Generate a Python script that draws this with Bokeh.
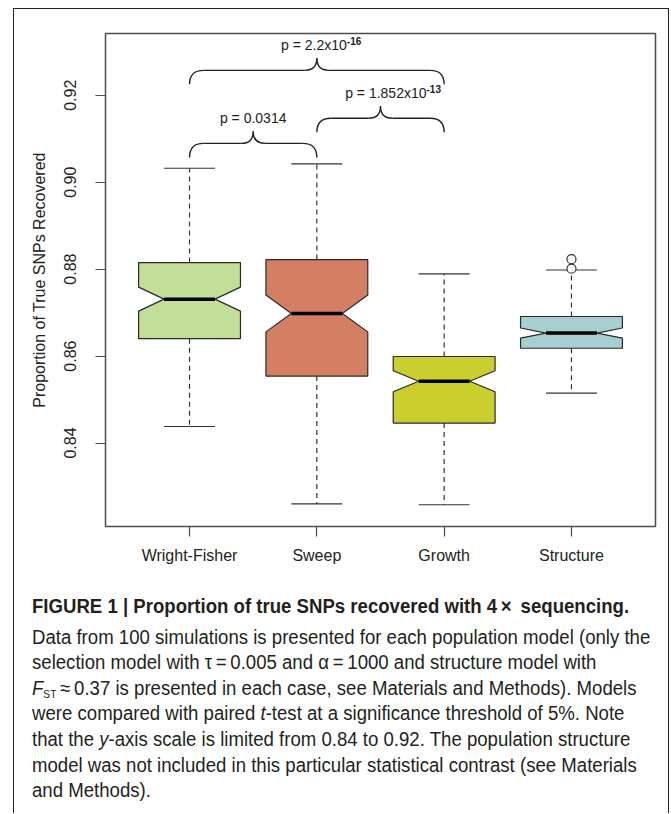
import numpy as np
from bokeh.plotting import figure
from bokeh.models import Range1d, FixedTicker, Div, ColumnDataSource
from bokeh.layouts import column
from bokeh.core.properties import value
from bokeh.embed import file_html
from bokeh.resources import INLINE

# ---- data: proportion of true SNPs recovered (100 simulations per model) ----
categories = ["Wright-Fisher", "Sweep", "Growth", "Structure"]
box_colors = ["#C3DE98", "#D47F63", "#CBCE2F", "#A7CFCF"]
q1 = [0.8640, 0.8554, 0.8446, 0.8618]
medians = [0.8731, 0.8698, 0.8542, 0.8653]
q3 = [0.8815, 0.8822, 0.8599, 0.8691]
whisker_low = [0.8438, 0.8260, 0.8258, 0.8515]
whisker_high = [0.9032, 0.9042, 0.8789, 0.8798]
outlier_model = ["Structure", "Structure"]
outlier_values = [0.8801, 0.8823]
n_simulations = 100

y_ticks = [0.84, 0.86, 0.88, 0.90, 0.92]

# paired t-test contrasts, drawn as curly brackets
contrast_from = ["Wright-Fisher", "Sweep", "Wright-Fisher"]
contrast_to = ["Sweep", "Growth", "Growth"]
contrast_text = ["p = 0.0314", "p = 1.852x10", "p = 2.2x10"]
contrast_exp = ["", "-13", "-16"]
bracket_base = [0.9057, 0.9115, 0.9225]

FONT = value("Liberation Sans")
INK = "#222222"

pos = {c: i + 1 for i, c in enumerate(categories)}
xs = np.array([pos[c] for c in categories], dtype=float)

Y0, Y1 = 0.8208, 0.9342
p = figure(width=654, height=566, x_range=Range1d(0.34, 4.66), y_range=Range1d(Y0, Y1),
           output_backend="svg", toolbar_location=None,
           min_border_left=91, min_border_right=13, min_border_top=24, min_border_bottom=49)
p.grid.visible = False
p.background_fill_color = "white"
p.border_fill_color = "white"
p.outline_line_color = "#4d4d4d"
p.outline_line_width = 1.5

# ---- notched boxes ----
half = 0.4
q1a, meda, q3a = np.array(q1), np.array(medians), np.array(q3)
notch = 1.58 * (q3a - q1a) / np.sqrt(n_simulations)
n_lo, n_hi = meda - notch, meda + notch
box_x, box_y = [], []
for x, a, l, m, h, b in zip(xs, q1a, n_lo, meda, n_hi, q3a):
    box_x.append([x - half, x - half, x - half / 2, x - half, x - half,
                  x + half, x + half, x + half / 2, x + half, x + half])
    box_y.append([a, l, m, h, b, b, h, m, l, a])

# whiskers (dashed) and staples
p.segment(x0=xs, y0=q3a, x1=xs, y1=whisker_high, line_color="#333333", line_width=1.2, line_dash="5 4")
p.segment(x0=xs, y0=q1a, x1=xs, y1=whisker_low, line_color="#333333", line_width=1.2, line_dash="5 4")
p.segment(x0=xs - half / 2, y0=whisker_high, x1=xs + half / 2, y1=whisker_high, line_color="#333333", line_width=1.2)
p.segment(x0=xs - half / 2, y0=whisker_low, x1=xs + half / 2, y1=whisker_low, line_color="#333333", line_width=1.2)

p.patches(xs=box_x, ys=box_y, fill_color=box_colors, line_color="#2a2a2a", line_width=1.2)
p.segment(x0=xs - half / 2, y0=meda, x1=xs + half / 2, y1=meda, line_color="black", line_width=3.5)

p.scatter(x=[pos[c] for c in outlier_model], y=outlier_values, marker="circle", size=9,
          fill_color="white", line_color="#333333", line_width=1.2)

# ---- curly brackets for the contrasts ----
px_per_y = (566 - 24 - 49) / (Y1 - Y0)
px_per_x = (654 - 91 - 13) / (4.66 - 0.34)
rise_mid = 14 / px_per_y
rise_tip = 26 / px_per_y
end_w = 14 / px_per_x
cusp_w = 12 / px_per_x
for c0, c1, base in zip(contrast_from, contrast_to, bracket_base):
    L, R = pos[c0], pos[c1]
    C = (L + R) / 2
    m, t = base + rise_mid, base + rise_tip
    p.quadratic(x0=[L, R], y0=[base, base], x1=[L + end_w, R - end_w], y1=[m, m],
                cx=[L, R], cy=[m, m], line_color=INK, line_width=1.4)
    p.segment(x0=[L + end_w, C + cusp_w], y0=[m, m], x1=[C - cusp_w, R - end_w], y1=[m, m],
              line_color=INK, line_width=1.4)
    p.quadratic(x0=[C - cusp_w, C + cusp_w], y0=[m, m], x1=[C, C], y1=[t, t],
                cx=[C, C], cy=[m, m], line_color=INK, line_width=1.4)

centers = [(pos[a] + pos[b]) / 2 for a, b in zip(contrast_from, contrast_to)]
tips = [b + rise_tip + 13 / px_per_y for b in bracket_base]
label_src = ColumnDataSource(dict(x=centers, y=tips, text=contrast_text, exp=contrast_exp,
                                  dx=[0, 46, 30], align=["center", "right", "right"],
                                  ey=[t + 4 / px_per_y for t in tips]))
p.text(x="x", y="y", text="text", x_offset="dx", text_align="align", text_baseline="middle",
       text_font=FONT, text_font_size="14px", text_color=INK, source=label_src)
p.text(x="x", y="ey", text="exp", x_offset="dx", text_align="left", text_baseline="middle",
       text_font=FONT, text_font_size="10px", text_font_style="bold", text_color=INK, source=label_src)

# ---- axes ----
p.xaxis.ticker = FixedTicker(ticks=list(xs))
p.xaxis.major_label_overrides = {int(x): c for x, c in zip(xs, categories)}
p.yaxis.ticker = FixedTicker(ticks=y_ticks)
p.yaxis.major_label_overrides = {t: f"{t:.2f}" for t in y_ticks}
p.yaxis.major_label_orientation = "vertical"
p.yaxis.axis_label = "Proportion of True SNPs Recovered"
for ax in (p.xaxis[0], p.yaxis[0]):
    ax.axis_line_color = None
    ax.major_tick_in = 0
    ax.major_tick_out = 10
    ax.major_tick_line_color = "#4d4d4d"
    ax.major_tick_line_width = 1.2
    ax.minor_tick_line_color = None
    ax.major_label_text_font = "Liberation Sans"
    ax.major_label_text_font_size = "16px"
    ax.major_label_text_color = INK
    ax.axis_label_text_font = "Liberation Sans"
    ax.axis_label_text_font_size = "16px"
    ax.axis_label_text_font_style = "normal"
    ax.axis_label_text_color = INK
p.xaxis.major_label_standoff = 10
p.yaxis.major_label_standoff = 19
p.yaxis.axis_label_standoff = 14

# ---- caption ----
caption_lines = [
    "<b>FIGURE 1 | Proportion of true SNPs recovered with 4&#8201;&#215;&#8201; sequencing.</b>",
    "Data from 100 simulations is presented for each population model (only the",
    "selection model with &#964;&#8201;=&#8201;0.005 and &#945;&#8201;=&#8201;1000 and structure model with",
    "<i>F</i><sub style='font-size:11px;line-height:0;vertical-align:-3px'>ST</sub>&#8201;&#8776;&#8201;0.37 "
    "is presented in each case, see Materials and Methods). Models",
    "were compared with paired <i>t</i>-test at a significance threshold of 5%. Note",
    "that the <i>y</i>-axis scale is limited from 0.84 to 0.92. The population structure",
    "model was not included in this particular statistical contrast (see Materials",
    "and Methods).",
]
caption_html = (
    "<div style=\"font-family:'Liberation Sans';font-size:20px;line-height:25.6px;color:#231f20;"
    "white-space:nowrap;padding:19px 0 0 18px;\">"
    "<div style='transform:scaleX(0.93);transform-origin:0 0;'>"
    + "".join(f"<div style='height:25.6px;{'margin-bottom:5px;' if i == 0 else ''}'>{ln}</div>"
              for i, ln in enumerate(caption_lines))
    + "</div></div>"
)
caption = Div(text=caption_html, width=654, height=238, margin=0)

page = column(p, caption, margin=(8, 0, 0, 13),
              styles={"border-left": "1.5px solid #222", "border-top": "1.5px solid #222",
                      "border-right": "1.5px solid #222"})

with open("out.html", "w") as f:
    f.write(file_html(page, INLINE))
